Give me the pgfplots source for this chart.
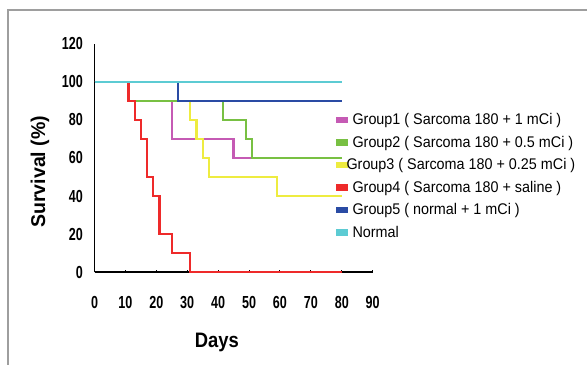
\documentclass[border=0pt]{standalone}
\usepackage{fontspec}
\setmainfont{Liberation Sans}
\newfontfamily\condbold{Liberation Sans Bold}[FakeStretch=0.72]
\newfontfamily\labbold{Liberation Sans Bold}[FakeStretch=0.88]
\newfontfamily\ylabbold{Liberation Sans Bold}[FakeStretch=0.98]
\newfontfamily\legfont{Liberation Sans}[FakeStretch=0.93]
\usepackage{pgfplots}
\pgfplotsset{compat=1.18}
\definecolor{cMag}{HTML}{C55AB4}
\definecolor{cGrn}{HTML}{78C043}
\definecolor{cYel}{HTML}{EEEC40}
\definecolor{cRed}{HTML}{EE2A2A}
\definecolor{cBlu}{HTML}{2A4BA4}
\definecolor{cCya}{HTML}{5CCBD3}
\begin{document}
\begin{tikzpicture}
\useasboundingbox (-94.5bp,-92.7bp) rectangle (492.5bp,272.3bp);
\fill[white] (-94.5bp,-92.7bp) rectangle (492.5bp,272.3bp);
\draw[color=black!38, line width=2.5bp] (-86.5bp,-95bp) -- (-86.5bp,262.3bp) -- (495bp,262.3bp);
\begin{axis}[
  at={(0,0)}, anchor=south west,
  scale only axis, width=278.2bp, height=228.7bp,
  xmin=0, xmax=90, ymin=0, ymax=120,
  axis x line*=bottom, axis y line*=left,
  every outer x axis line/.append style={line width=1.8bp, black},
  every outer y axis line/.append style={line width=1.8bp, black},
  clip=false,
  xtick={0,10,...,90},
  xticklabels={0,10,20,30,40,50,60,70,80,90},
  ytick={0,20,...,120},
  yticklabels={0,20,40,60,80,100,120},
  tick align=inside,
  major tick length=2.5bp,
  x tick style={line width=1bp, black},
  y tick style={draw=none},
  xticklabel style={font=\condbold\fontsize{17.5}{17.5}\selectfont, anchor=north, inner sep=0pt, yshift=-24bp},
  yticklabel style={font=\condbold\fontsize{17.5}{17.5}\selectfont, anchor=east, inner sep=0pt, xshift=-11.5bp},
  xlabel={Days},
  xlabel style={font=\labbold\fontsize{21}{21}\selectfont, at={(axis description cs:0.44,-0.3048)}, anchor=center},
  ylabel={Survival (\%)},
  ylabel style={font=\ylabbold\fontsize{20}{20}\selectfont, at={(axis description cs:-0.196,0.44)}, anchor=center},
  legend cell align=left,
  legend image code/.code={\fill[#1] (0bp,-2.8bp) rectangle (11bp,2.8bp);},
  legend style={draw=none, fill=none, at={(axis description cs:0.868,0.705)}, anchor=north west,
    font=\legfont\fontsize{15.5}{17}\selectfont, inner sep=0pt, row sep=5.9bp,
    /tikz/every odd column/.append style={column sep=3bp}},
]
\addlegendimage{color=cMag}\addlegendentry{Group1 ( Sarcoma 180 + 1 mCi )}
\addlegendimage{color=cGrn}\addlegendentry{Group2 ( Sarcoma 180 + 0.5 mCi )}
\addlegendimage{color=cYel}\addlegendentry{\hspace*{-6bp}Group3 ( Sarcoma 180 + 0.25 mCi )}
\addlegendimage{color=cRed}\addlegendentry{Group4 ( Sarcoma 180 + saline )}
\addlegendimage{color=cBlu}\addlegendentry{Group5 ( normal + 1 mCi )}
\addlegendimage{color=cCya}\addlegendentry{Normal}
% Group1
\addplot[forget plot, color=cMag, line width=2.2bp] coordinates {(0,100)(11,100)(11,90)(25,90)(25,70)(45,70)(45,60)(80,60)};
% Group3
\addplot[forget plot, color=cYel, line width=2.2bp] coordinates {(0,100)(11,100)(11,90)(31,90)(31,80)(33,80)(33,70)(35,70)(35,60)(37,60)(37,50)(59,50)(59,40)(80,40)};
% Group2
\addplot[forget plot, color=cGrn, line width=2.2bp] coordinates {(0,100)(11,100)(11,90)(41.5,90)(41.5,80)(49,80)(49,70)(51,70)(51,60)(80,60)};
% Group5
\addplot[forget plot, color=cBlu, line width=2.2bp] coordinates {(0,100)(27,100)(27,90)(80,90)};
% Group4
\addplot[forget plot, color=cRed, line width=2.2bp] coordinates {(0,100)(11,100)(11,90)(13,90)(13,80)(15,80)(15,70)(17,70)(17,50)(19,50)(19,40)(21,40)(21,20)(25,20)(25,10)(31,10)(31,0)(80,0)};
% Normal
\addplot[forget plot, color=cCya, line width=2.2bp] coordinates {(0,100)(80,100)};
\end{axis}
\end{tikzpicture}
\end{document}
